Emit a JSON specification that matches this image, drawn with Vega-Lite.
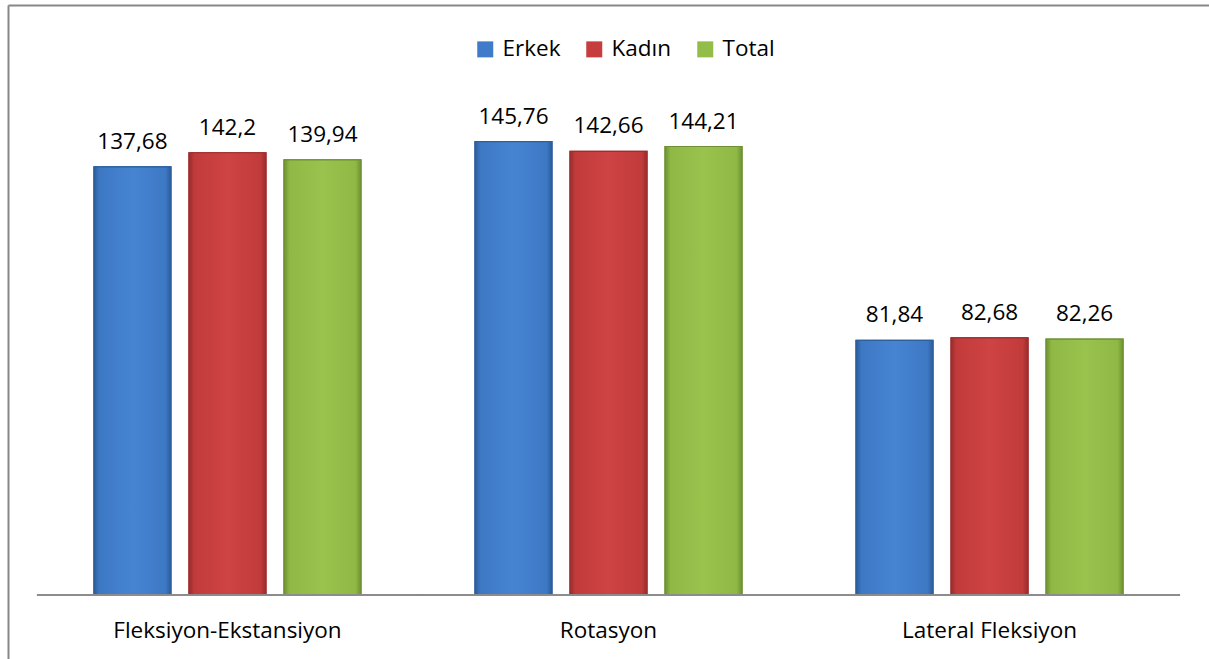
{
  "$schema": "https://vega.github.io/schema/vega-lite/v6.json",
  "width": 1201,
  "height": 654,
  "autosize": {"type": "none"},
  "padding": {"left": 8, "top": 5, "right": 0, "bottom": 0},
  "background": "white",
  "config": {"view": {"stroke": null}, "font": "Open Sans"},
  "data": {
    "values": [
      {"kategori": "Fleksiyon-Ekstansiyon", "cinsiyet": "Erkek", "deger": 137.68, "etiket": "137,68"},
      {"kategori": "Fleksiyon-Ekstansiyon", "cinsiyet": "Kadın", "deger": 142.2, "etiket": "142,2"},
      {"kategori": "Fleksiyon-Ekstansiyon", "cinsiyet": "Total", "deger": 139.94, "etiket": "139,94"},
      {"kategori": "Rotasyon", "cinsiyet": "Erkek", "deger": 145.76, "etiket": "145,76"},
      {"kategori": "Rotasyon", "cinsiyet": "Kadın", "deger": 142.66, "etiket": "142,66"},
      {"kategori": "Rotasyon", "cinsiyet": "Total", "deger": 144.21, "etiket": "144,21"},
      {"kategori": "Lateral Fleksiyon", "cinsiyet": "Erkek", "deger": 81.84, "etiket": "81,84"},
      {"kategori": "Lateral Fleksiyon", "cinsiyet": "Kadın", "deger": 82.68, "etiket": "82,68"},
      {"kategori": "Lateral Fleksiyon", "cinsiyet": "Total", "deger": 82.26, "etiket": "82,26"}
    ]
  },
  "resolve": {"axis": {"x": "independent", "y": "independent"}},
  "layer": [
    {
      "mark": {"type": "bar", "strokeWidth": 1.2},
      "encoding": {
        "x": {
          "field": "kategori", "type": "nominal",
          "sort": ["Fleksiyon-Ekstansiyon", "Rotasyon", "Lateral Fleksiyon"],
          "scale": {"paddingInner": 0, "paddingOuter": 0.076},
          "axis": {"orient": "bottom", "offset": -64, "domain": false, "ticks": false, "tickSize": 0, "labelPadding": 42, "labelBaseline": "alphabetic", "labelFontSize": 22.5, "labelFont": "Open Sans", "labelColor": "#000000", "labelAngle": 0, "labelLimit": 0, "title": null}
        },
        "xOffset": {
          "field": "cinsiyet", "type": "nominal",
          "sort": ["Erkek", "Kadın", "Total"],
          "scale": {"paddingInner": 0.19, "paddingOuter": 0.6}
        },
        "y": {
          "field": "deger", "type": "quantitative",
          "scale": {"domain": [-20.58, 189.71], "nice": false, "zero": false},
          "axis": null
        },
        "y2": {"datum": 0},
        "color": {
          "field": "cinsiyet", "type": "nominal",
          "sort": ["Erkek", "Kadın", "Total"],
          "scale": {"range": ["#3F7BC8", "#C63D3D", "#93BC48"]},
          "legend": {"orient": "none", "legendX": 466, "legendY": 33, "direction": "horizontal", "title": null, "symbolType": "square", "symbolSize": 256, "symbolStrokeWidth": 0, "symbolOpacity": 1, "labelFontSize": 22.5, "labelFont": "Open Sans", "labelColor": "#000000", "labelOffset": 6, "columnPadding": 22}
        },
        "stroke": {
          "field": "cinsiyet", "type": "nominal",
          "sort": ["Erkek", "Kadın", "Total"],
          "scale": {"range": ["#2D5F9E", "#9E2E2E", "#6F9134"]},
          "legend": null
        }
      }
    },
    {
      "transform": [{"filter": "datum.cinsiyet === 'Erkek'"}],
      "mark": {"type": "bar", "stroke": "#2D5F9E", "strokeWidth": 1.2, "color": {"gradient": "linear", "x1": 0, "y1": 0, "x2": 1, "y2": 0, "stops": [{"offset": 0, "color": "#2C5C9A"}, {"offset": 0.07, "color": "#3D78C4"}, {"offset": 0.5, "color": "#4684D2"}, {"offset": 0.93, "color": "#3D78C4"}, {"offset": 1, "color": "#2C5C9A"}]}},
      "encoding": {
        "x": {"field": "kategori", "type": "nominal", "sort": ["Fleksiyon-Ekstansiyon", "Rotasyon", "Lateral Fleksiyon"], "axis": null},
        "xOffset": {"field": "cinsiyet", "type": "nominal", "sort": ["Erkek", "Kadın", "Total"]},
        "y": {"field": "deger", "type": "quantitative", "axis": null},
        "y2": {"datum": 0}
      }
    },
    {
      "transform": [{"filter": "datum.cinsiyet === 'Kadın'"}],
      "mark": {"type": "bar", "stroke": "#9E2E2E", "strokeWidth": 1.2, "color": {"gradient": "linear", "x1": 0, "y1": 0, "x2": 1, "y2": 0, "stops": [{"offset": 0, "color": "#9A2C2C"}, {"offset": 0.07, "color": "#C23B3B"}, {"offset": 0.5, "color": "#CE4343"}, {"offset": 0.93, "color": "#C23B3B"}, {"offset": 1, "color": "#9A2C2C"}]}},
      "encoding": {
        "x": {"field": "kategori", "type": "nominal", "sort": ["Fleksiyon-Ekstansiyon", "Rotasyon", "Lateral Fleksiyon"], "axis": null},
        "xOffset": {"field": "cinsiyet", "type": "nominal", "sort": ["Erkek", "Kadın", "Total"]},
        "y": {"field": "deger", "type": "quantitative", "axis": null},
        "y2": {"datum": 0}
      }
    },
    {
      "transform": [{"filter": "datum.cinsiyet === 'Total'"}],
      "mark": {"type": "bar", "stroke": "#6F9134", "strokeWidth": 1.2, "color": {"gradient": "linear", "x1": 0, "y1": 0, "x2": 1, "y2": 0, "stops": [{"offset": 0, "color": "#6E9233"}, {"offset": 0.07, "color": "#8FB845"}, {"offset": 0.5, "color": "#99C34D"}, {"offset": 0.93, "color": "#8FB845"}, {"offset": 1, "color": "#6E9233"}]}},
      "encoding": {
        "x": {"field": "kategori", "type": "nominal", "sort": ["Fleksiyon-Ekstansiyon", "Rotasyon", "Lateral Fleksiyon"], "axis": null},
        "xOffset": {"field": "cinsiyet", "type": "nominal", "sort": ["Erkek", "Kadın", "Total"]},
        "y": {"field": "deger", "type": "quantitative", "axis": null},
        "y2": {"datum": 0}
      }
    },
    {
      "mark": {"type": "text", "baseline": "alphabetic", "dy": -18, "fontSize": 22.5, "font": "Open Sans", "color": "#000000"},
      "encoding": {
        "x": {"field": "kategori", "type": "nominal", "sort": ["Fleksiyon-Ekstansiyon", "Rotasyon", "Lateral Fleksiyon"], "axis": null},
        "xOffset": {"field": "cinsiyet", "type": "nominal", "sort": ["Erkek", "Kadın", "Total"]},
        "y": {"field": "deger", "type": "quantitative", "axis": null},
        "text": {"field": "etiket", "type": "nominal"}
      }
    },
    {
      "mark": {"type": "rect", "color": "#8C8C8C"},
      "encoding": {
        "x": {
          "field": "kategori", "type": "nominal",
          "sort": ["Fleksiyon-Ekstansiyon", "Rotasyon", "Lateral Fleksiyon"],
          "axis": {"orient": "top", "labels": false, "ticks": false, "grid": false, "title": null, "domain": true, "domainColor": "#878787", "domainWidth": 2}
        },
        "y": {
          "datum": 0.32, "type": "quantitative",
          "axis": {"orient": "left", "labels": false, "ticks": false, "grid": false, "title": null, "domain": true, "domainColor": "#878787", "domainWidth": 2}
        },
        "y2": {"datum": -0.32}
      }
    }
  ]
}
